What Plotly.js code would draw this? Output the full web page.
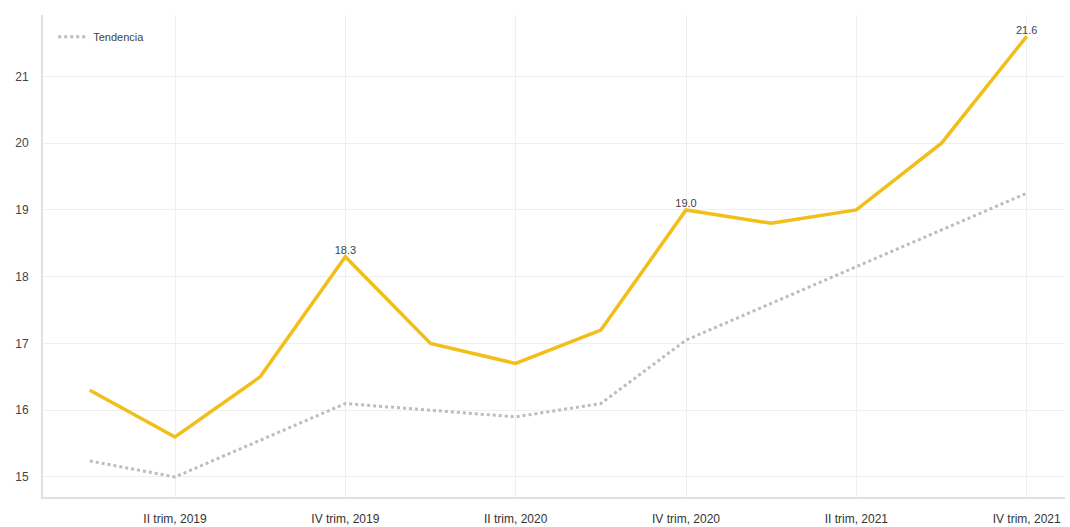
<!DOCTYPE html>
<html>
<head>
<meta charset="utf-8">
<script src="https://cdn.plot.ly/plotly-3.0.1.min.js"></script>
<style>html,body{margin:0;padding:0;background:#fff;}#chart{width:1070px;height:527px;}</style>
</head>
<body>
<div id="chart"></div>
<script>
var categories = ["I trim, 2019","II trim, 2019","III trim, 2019","IV trim, 2019",
                  "I trim, 2020","II trim, 2020","III trim, 2020","IV trim, 2020",
                  "I trim, 2021","II trim, 2021","III trim, 2021","IV trim, 2021"];
var values = [16.3, 15.6, 16.5, 18.3, 17.0, 16.7, 17.2, 19.0, 18.8, 19.0, 20.0, 21.6];
var trend = [15.24, 15.0, 15.55, 16.1, 16.0, 15.9, 16.1, 17.05, 17.6, 18.15, 18.7, 19.25];
var labelled = ["IV trim, 2019", "IV trim, 2020", "IV trim, 2021"];
var tickLabels = ["II trim, 2019","IV trim, 2019","II trim, 2020","IV trim, 2020","II trim, 2021","IV trim, 2021"];
var yTicks = [15, 16, 17, 18, 19, 20, 21];

var idx = categories.map(function(c, i){ return i; });
var texts = categories.map(function(c, i){ return labelled.indexOf(c) >= 0 ? values[i].toFixed(1) : ""; });

var traces = [
  {x: idx, y: trend, type: 'scatter', mode: 'lines', name: 'Tendencia',
   line: {color: '#bdbdbd', width: 3, dash: 'dot'}, showlegend: true, hoverinfo: 'y'},
  {x: idx, y: values, type: 'scatter', mode: 'lines+text', name: 'Valor',
   text: texts, textposition: 'top center', textfont: {size: 11, color: '#444'},
   line: {color: '#F2BE1A', width: 3.5}, showlegend: false, hoverinfo: 'y'}
];

var layout = {
  width: 1070, height: 527,
  margin: {l: 43, r: 5, t: 15, b: 30},
  paper_bgcolor: '#fff', plot_bgcolor: '#fff',
  font: {family: 'Liberation Sans, Arial, sans-serif', size: 11, color: '#444'},
  showlegend: true,
  legend: {x: 0.01, y: 0.985, xanchor: 'left', yanchor: 'top', bgcolor: 'rgba(0,0,0,0)',
           font: {size: 11, color: '#444'}},
  xaxis: {
    range: [-0.55, 11.45],
    tickvals: tickLabels.map(function(t){ return categories.indexOf(t); }),
    ticktext: tickLabels,
    showgrid: true, gridcolor: '#efefef', gridwidth: 1,
    zeroline: false, showline: true, linecolor: '#e0e0e0', linewidth: 2,
    ticks: '', ticklabelstandoff: 10, tickfont: {size: 12, color: '#333'}
  },
  yaxis: {
    range: [14.7, 21.92],
    tickvals: yTicks,
    showgrid: true, gridcolor: '#efefef', gridwidth: 1,
    zeroline: false, showline: true, linecolor: '#e0e0e0', linewidth: 2,
    ticks: '', ticklabelstandoff: 10, tickfont: {size: 12, color: '#444'}
  }
};

Plotly.newPlot('chart', traces, layout, {displayModeBar: false, staticPlot: true});
</script>
</body>
</html>
